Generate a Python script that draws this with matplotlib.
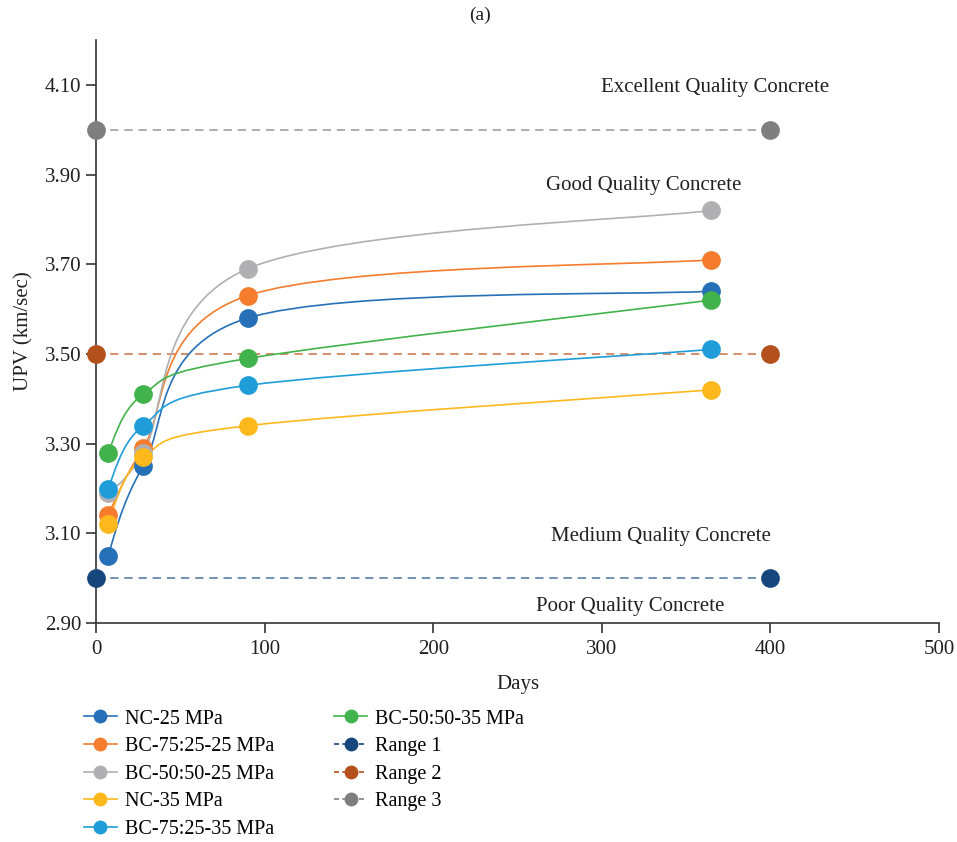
import numpy as np
import matplotlib.pyplot as plt
from matplotlib.path import Path
from matplotlib.patches import PathPatch
from matplotlib.lines import Line2D

plt.rcParams['font.family'] = ['Liberation Serif', 'DejaVu Serif']

# test ages (days) and UPV readings (km/sec)
days = [7, 28, 90, 365]
nc25 = [3.05, 3.25, 3.58, 3.64]
bc7525_25 = [3.14, 3.29, 3.63, 3.71]
bc5050_25 = [3.19, 3.28, 3.69, 3.82]
nc35 = [3.12, 3.27, 3.34, 3.42]
bc7525_35 = [3.20, 3.34, 3.43, 3.51]
bc5050_35 = [3.28, 3.41, 3.49, 3.62]

series_names = ['NC-25 MPa', 'BC-75:25-25 MPa', 'BC-50:50-25 MPa',
                'NC-35 MPa', 'BC-75:25-35 MPa', 'BC-50:50-35 MPa']
series_vals = [nc25, bc7525_25, bc5050_25, nc35, bc7525_35, bc5050_35]
series_colors = ['#2670b8', '#f47c2c', '#b0b0b2', '#fdb81c', '#1f9dd9', '#42b34c']

# quality limits
range_days = [0, 400]
range_names = ['Range 1', 'Range 2', 'Range 3']
range_vals = [3.0, 3.5, 4.0]
range_colors = ['#15467c', '#b4501b', '#7f7f80']
range_line_colors = ['#5a7ea6', '#d07a50', '#a0a0a0']

quality_labels = ['Excellent Quality Concrete', 'Good Quality Concrete',
                  'Medium Quality Concrete', 'Poor Quality Concrete']
quality_pos = [(367, 4.094), (325, 3.875), (335, 3.092), (317, 2.938)]


def smooth_path(x, y):
    # excel-style smoothed line: cubic bezier between points (catmull-rom)
    pts = np.column_stack([x, y]).astype(float)
    n = len(pts)
    verts = [pts[0]]
    codes = [Path.MOVETO]
    for i in range(n - 1):
        p0 = pts[i - 1] if i > 0 else pts[i]
        p1 = pts[i]
        p2 = pts[i + 1]
        p3 = pts[i + 2] if i + 2 < n else pts[i + 1]
        c1 = p1 + (p2 - p0) / 6.0
        c2 = p2 - (p3 - p1) / 6.0
        verts += [c1, c2, p2]
        codes += [Path.CURVE4] * 3
    return Path(verts, codes)


fig = plt.figure(figsize=(9.57, 8.42), dpi=100)
ax = fig.add_axes([0.1003, 0.26, 0.8809, 0.6925])

handles = []
for name, vals, c in zip(series_names, series_vals, series_colors):
    ax.add_patch(PathPatch(smooth_path(days, vals), facecolor='none',
                           edgecolor=c, lw=1.2, zorder=2))
    ax.plot(days, vals, 'o', color=c, ms=13.5, mec='none', zorder=3)
    handles.append(Line2D([], [], color=c, lw=1.2, marker='o', ms=10, mec='none', label=name))

for name, v, c, lc in zip(range_names, range_vals, range_colors, range_line_colors):
    ax.plot(range_days, [v, v], '--', color=lc, lw=1.2, dashes=(5, 3.5), zorder=1)
    ax.plot(range_days, [v, v], 'o', color=c, ms=13.5, mec='none', zorder=3, clip_on=False)
    handles.append(Line2D([], [], color=c, lw=1.2, ls='--', dashes=(3, 2),
                          marker='o', ms=10, mec='none', label=name))

for txt, (tx, ty) in zip(quality_labels, quality_pos):
    ax.text(tx, ty, txt, ha='center', va='center', fontsize=15, color='#231f20')

ax.set_xlim(0, 500)
ax.set_ylim(2.9, 4.2)
ax.set_xticks([0, 100, 200, 300, 400, 500])
ax.set_yticks([2.9, 3.1, 3.3, 3.5, 3.7, 3.9, 4.1])
ax.set_yticklabels(['%.2f' % t for t in ax.get_yticks()])
ax.spines['top'].set_visible(False)
ax.spines['right'].set_visible(False)
for s in ['left', 'bottom']:
    ax.spines[s].set_color('#333333')
    ax.spines[s].set_linewidth(1.2)
ax.tick_params(direction='out', length=7, width=1.2, color='#333333',
               labelsize=15, labelcolor='#231f20')
ax.tick_params(axis='x', pad=5)
ax.set_xlabel('Days', fontsize=15, color='#231f20', labelpad=12)
ax.set_ylabel('UPV (km/sec)', fontsize=15, color='#231f20', labelpad=8)

fig.text(0.5016, 0.982, '(a)', ha='center', va='center', fontsize=14, color='#231f20')

fig.legend(handles=handles, ncol=2, loc='upper left', bbox_to_anchor=(0.079, 0.167),
           frameon=False, fontsize=14.5, handlelength=1.65, handletextpad=0.38,
           columnspacing=3.0, labelspacing=0.42, borderaxespad=0)

plt.savefig('out.png', dpi=100)
